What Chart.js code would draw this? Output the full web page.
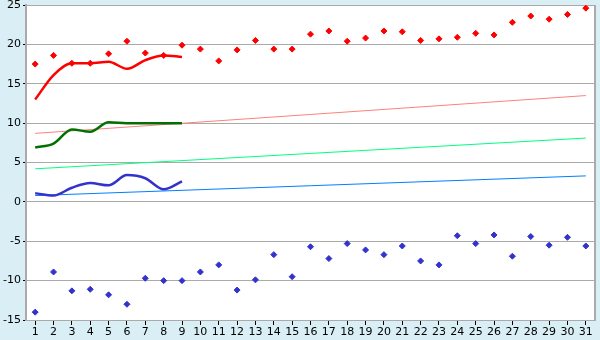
<!DOCTYPE html>
<html>
<head>
<meta charset="utf-8">
<script src="https://cdn.jsdelivr.net/npm/chart.js@4"></script>
<style>
  html, body { margin: 0; padding: 0; background: #d9eff5; }
  #wrap { width: 600px; height: 340px; }
</style>
</head>
<body>
<div id="wrap"><canvas id="chart" width="600" height="340"></canvas></div>
<script>
// Jours du mois
const days = Array.from({ length: 31 }, (_, i) => String(i + 1));

// Maximums et minimums journaliers
const maxTemps = [17.5, 18.6, 17.6, 17.6, 18.8, 20.4, 18.9, 18.6, 19.9, 19.4,
    17.9, 19.3, 20.5, 19.4, 19.4, 21.3, 21.7, 20.4, 20.8, 21.7,
    21.6, 20.5, 20.7, 20.9, 21.4, 21.2, 22.8, 23.6, 23.2, 23.8, 24.6];
const minTemps = [-14.0, -8.9, -11.3, -11.1, -11.8, -13.0, -9.7, -10.0, -10.0, -8.9,
    -8.0, -11.2, -9.9, -6.7, -9.5, -5.7, -7.2, -5.3, -6.1, -6.7,
    -5.6, -7.5, -8.0, -4.3, -5.3, -4.2, -6.9, -4.4, -5.5, -4.5, -5.6];

// Moyennes courantes (9 premiers jours)
const avgMax = [13.0, 16.1, 17.6, 17.6, 17.8, 16.9, 18.0, 18.6, 18.4];
const avgMean = [6.9, 7.4, 9.2, 8.9, 10.1, 10.0, 10.0, 10.0, 10.0];
const avgMin = [1.1, 0.8, 1.8, 2.4, 2.1, 3.4, 3.0, 1.6, 2.6];

// Droites de tendance [jour 1, jour 31]
const trendMax = [8.7, 13.5];
const trendMean = [4.2, 8.1];
const trendMin = [0.8, 3.3];

// Graduations de l'axe y
const yMin = -15, yMax = 25, yStep = 5;

function trend(vals) {
    return [{ x: days[0], y: vals[0] }, { x: days[days.length - 1], y: vals[1] }];
}

function pointSet(data, color) {
    return {
        data: data, showLine: false, borderColor: color, backgroundColor: color,
        pointStyle: 'rectRot', pointRadius: 3, pointBorderWidth: 1
    };
}

function lineSet(data, color, width) {
    return {
        data: data, borderColor: color, borderWidth: width, pointRadius: 0,
        cubicInterpolationMode: 'monotone', fill: false
    };
}

// Fond bleu clair + zone blanche + bordure droite
const frame = {
    id: 'frame',
    beforeDraw(chart) {
        const { ctx, chartArea: a } = chart;
        ctx.save();
        ctx.fillStyle = '#d9eff5';
        ctx.fillRect(0, 0, chart.width, chart.height);
        ctx.fillStyle = '#ffffff';
        ctx.fillRect(a.left, a.top, a.right - a.left, a.bottom - a.top);
        ctx.restore();
    },
    afterDraw(chart) {
        const { ctx, chartArea: a } = chart;
        ctx.save();
        ctx.strokeStyle = '#aaaaaa';
        ctx.lineWidth = 2;
        ctx.beginPath();
        ctx.moveTo(a.right, a.top);
        ctx.lineTo(a.right, a.bottom);
        ctx.stroke();
        ctx.restore();
    }
};

new Chart(document.getElementById('chart'), {
    type: 'line',
    data: {
        labels: days,
        datasets: [
            lineSet(avgMax, '#ff0000', 2.5),
            lineSet(avgMean, '#007000', 2.5),
            lineSet(avgMin, '#3333cc', 2.5),
            pointSet(maxTemps, '#ff0000'),
            pointSet(minTemps, '#3333cc'),
            lineSet(trend(trendMax), '#ff8080', 1),
            lineSet(trend(trendMean), '#00ff80', 1),
            lineSet(trend(trendMin), '#0080ff', 1)
        ]
    },
    options: {
        responsive: false,
        animation: false,
        layout: { padding: { top: 5, right: 5, left: 0, bottom: 0 } },
        plugins: { legend: { display: false }, tooltip: { enabled: false } },
        scales: {
            x: {
                type: 'category',
                offset: true,
                afterFit(scale) { scale.height = 20; scale.paddingLeft = 0; scale.paddingRight = 0; },
                grid: { drawOnChartArea: false, drawTicks: true, tickLength: 5, color: '#000000', offset: false },
                border: { color: '#aaaaaa', width: 1 },
                ticks: {
                    color: '#000000', padding: 1, maxRotation: 0, autoSkip: false,
                    font: { family: 'DejaVu Sans', size: 11 }
                }
            },
            y: {
                min: yMin, max: yMax,
                afterFit(scale) { scale.width = 26; scale.paddingTop = 0; scale.paddingBottom = 0; },
                grid: { color: '#aaaaaa', tickLength: 3, tickColor: '#000000' },
                border: { color: '#aaaaaa', width: 2 },
                ticks: {
                    stepSize: yStep, color: '#000000', padding: 2,
                    font: { family: 'DejaVu Sans', size: 11 }
                }
            }
        }
    },
    plugins: [frame]
});
</script>
</body>
</html>
